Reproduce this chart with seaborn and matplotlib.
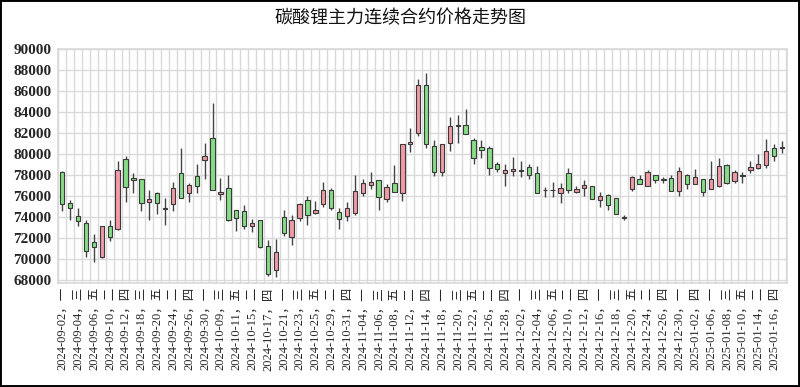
import matplotlib
matplotlib.use("Agg")
import numpy as np
import pandas as pd
import matplotlib.pyplot as plt
import seaborn as sns
from matplotlib.patches import Rectangle

TITLE = "碳酸锂主力连续合约价格走势图"

# 交易日 (2024-09-02 ~ 2025-01-17)
dates = [
    "2024-09-02", "2024-09-03", "2024-09-04", "2024-09-05", "2024-09-06", "2024-09-09", "2024-09-10",
    "2024-09-11", "2024-09-12", "2024-09-13", "2024-09-18", "2024-09-19", "2024-09-20", "2024-09-23",
    "2024-09-24", "2024-09-25", "2024-09-26", "2024-09-27", "2024-09-30",
    "2024-10-08", "2024-10-09", "2024-10-10", "2024-10-11", "2024-10-14", "2024-10-15", "2024-10-16",
    "2024-10-17", "2024-10-18", "2024-10-21", "2024-10-22", "2024-10-23", "2024-10-24", "2024-10-25",
    "2024-10-28", "2024-10-29", "2024-10-30", "2024-10-31",
    "2024-11-01", "2024-11-04", "2024-11-05", "2024-11-06", "2024-11-07", "2024-11-08", "2024-11-11",
    "2024-11-12", "2024-11-13", "2024-11-14", "2024-11-15", "2024-11-18", "2024-11-19", "2024-11-20",
    "2024-11-21", "2024-11-22", "2024-11-25", "2024-11-26", "2024-11-27", "2024-11-28", "2024-11-29",
    "2024-12-02", "2024-12-03", "2024-12-04", "2024-12-05", "2024-12-06", "2024-12-09", "2024-12-10",
    "2024-12-11", "2024-12-12", "2024-12-13", "2024-12-16", "2024-12-17", "2024-12-18", "2024-12-19",
    "2024-12-20", "2024-12-23", "2024-12-24", "2024-12-25", "2024-12-26", "2024-12-27", "2024-12-30",
    "2024-12-31",
    "2025-01-02", "2025-01-03", "2025-01-06", "2025-01-07", "2025-01-08", "2025-01-09", "2025-01-10",
    "2025-01-13", "2025-01-14", "2025-01-15", "2025-01-16", "2025-01-17",
]

opens = [
    78300, 75300, 74050, 73450, 71600, 70200, 73150, 72850, 79550, 77750,
    77600, 75450, 76300, 74800, 75200, 78150, 76300, 77950, 79400, 81500,
    76200, 76800, 74650, 74550, 73100, 73700, 71250, 68950, 74000, 72100,
    73950, 75650, 74350, 75200, 76550, 74500, 74100, 74400, 76300, 77050,
    77500, 75750, 77250, 76300, 80950, 82050, 86550, 80800, 78300, 81100,
    82700, 82750, 81300, 80650, 80600, 79050, 78150, 78400, 78500, 78800,
    78150, 76600, 76550, 76250, 78200, 76400, 76750, 76950, 75600, 76100,
    75800, 74000, 76650, 77600, 77000, 78000, 77600, 77700, 76500, 78050,
    77150, 77600, 76700, 76950, 79000, 77450, 77950, 78500, 78700, 78950,
    80550, 80550,
]
closes = [
    75200, 74850, 73600, 70750, 71100, 73150, 72100, 78450, 76900, 77500,
    75300, 75750, 75300, 74850, 76800, 75850, 77050, 76950, 79800, 76600,
    76400, 73700, 73900, 73100, 73400, 71100, 68550, 70650, 72450, 73700,
    75250, 74150, 74650, 76600, 74900, 73800, 74850, 76500, 77250, 77350,
    75900, 76900, 76400, 80950, 81200, 86550, 81000, 78300, 80950, 82650,
    82750, 81950, 79600, 80350, 78700, 78550, 78500, 78600, 78350, 78000,
    76300, 76550, 76600, 76750, 76600, 76700, 77050, 75750, 76000, 75100,
    74300, 73950, 77850, 77150, 78250, 77500, 77500, 76500, 78350, 77150,
    77800, 76350, 77650, 78850, 77200, 78250, 78000, 78800, 79100, 80300,
    79850, 80700,
]
highs = [
    78350, 75600, 74850, 73700, 72400, 73150, 73750, 79300, 79850, 78200,
    77650, 76600, 76350, 75800, 77350, 80550, 77250, 79100, 81050, 84900,
    77750, 78050, 74700, 75100, 73800, 73750, 71800, 71900, 74700, 74200,
    75300, 76000, 75500, 77350, 76800, 74850, 75400, 78050, 77600, 78300,
    77550, 77150, 78950, 81000, 82450, 87200, 87700, 81350, 81000, 83550,
    83750, 84300, 81550, 81300, 80800, 79250, 79100, 79750, 79300, 79100,
    78850, 76900, 77350, 77200, 78700, 76950, 77550, 76950, 76350, 76150,
    75850, 74200, 77900, 78050, 78450, 78050, 77800, 78050, 78800, 78100,
    78600, 77650, 79300, 79650, 79050, 78500, 78300, 79300, 80000, 81450,
    81000, 81250,
]
lows = [
    74550, 73700, 73150, 70200, 69700, 70050, 71700, 72800, 75400, 76300,
    74550, 73700, 74300, 73200, 74550, 75800, 75400, 76250, 77600, 76550,
    75600, 73650, 72700, 72900, 72600, 71050, 68350, 68250, 72150, 71300,
    73650, 73250, 74300, 75000, 74650, 72900, 73600, 74200, 76000, 76700,
    74700, 75400, 76350, 75500, 80200, 81750, 80600, 77900, 77900, 80300,
    81050, 81900, 79050, 79650, 78050, 78300, 76950, 77900, 77850, 77600,
    76250, 75900, 75900, 75300, 76250, 76300, 76050, 75700, 75000, 74700,
    74250, 73700, 76450, 77100, 76950, 77250, 77250, 76450, 76000, 76700,
    77100, 76050, 76650, 76900, 77150, 77250, 77250, 78150, 78600, 78700,
    79350, 80150,
]

y_ticks = list(range(68000, 90001, 2000))
WEEK = "一二三四五六日"

df = pd.DataFrame({"date": dates, "open": opens, "close": closes, "high": highs, "low": lows})
df["up"] = df["close"] >= df["open"]
df["label"] = [d + "，" + WEEK[pd.Timestamp(d).weekday()] for d in df["date"]]

sns.set_theme(style="white")
plt.rcParams["font.family"] = ["Liberation Serif", "Noto Sans CJK SC", "DejaVu Sans"]

fig = plt.figure(figsize=(8, 3.87), dpi=100)
ax = fig.add_axes([0.0729, 0.2687, 0.9105, 0.6039])

# 影线 + 实体 (红涨绿跌)
x = np.arange(len(df))
ax.vlines(x, df["low"], df["high"], color="#444444", linewidth=1.0, zorder=2)
body_low = np.minimum(df["open"], df["close"])
body_h = np.maximum((df["close"] - df["open"]).abs(), 70)
body_col = np.where(df["up"], "#f29aa5", "#86dd86")
ax.bar(x, body_h, bottom=body_low, width=0.55, color=body_col,
       edgecolor="#3a3a3a", linewidth=0.8, zorder=3)

ax.set_xlim(-0.5, len(df) - 0.4)
ax.set_ylim(67700, 90000)
ax.set_yticks(y_ticks)
ax.set_yticklabels([str(v) for v in y_ticks], fontsize=11, fontweight="bold")
ax.set_xticks(x[::2])
ax.set_xticklabels(df["label"][::2], rotation=90, fontsize=9,
                   family=["Liberation Serif", "Noto Sans CJK SC"])
ax.set_xticks(np.arange(-0.5, len(df) + 0.5, 1), minor=True)
ax.tick_params(axis="both", which="both", length=0)
ax.tick_params(axis="y", pad=5)
ax.tick_params(axis="x", pad=3)

ax.grid(axis="y", which="major", color="#d9d9d9", linewidth=1.0)
ax.grid(axis="x", which="minor", color="#d9d9d9", linewidth=1.0)
ax.grid(axis="x", which="major", visible=False)
ax.set_axisbelow(True)
for s in ax.spines.values():
    s.set_color("#d9d9d9")

fig.text(0.5, 0.953, TITLE, ha="center", va="center", fontsize=13,
         family=["Noto Sans CJK SC"], color="#111111")
fig.add_artist(Rectangle((0, 0), 1, 1, transform=fig.transFigure, fill=False,
                         edgecolor="black", linewidth=2.8))

fig.savefig("out.png", dpi=100)
